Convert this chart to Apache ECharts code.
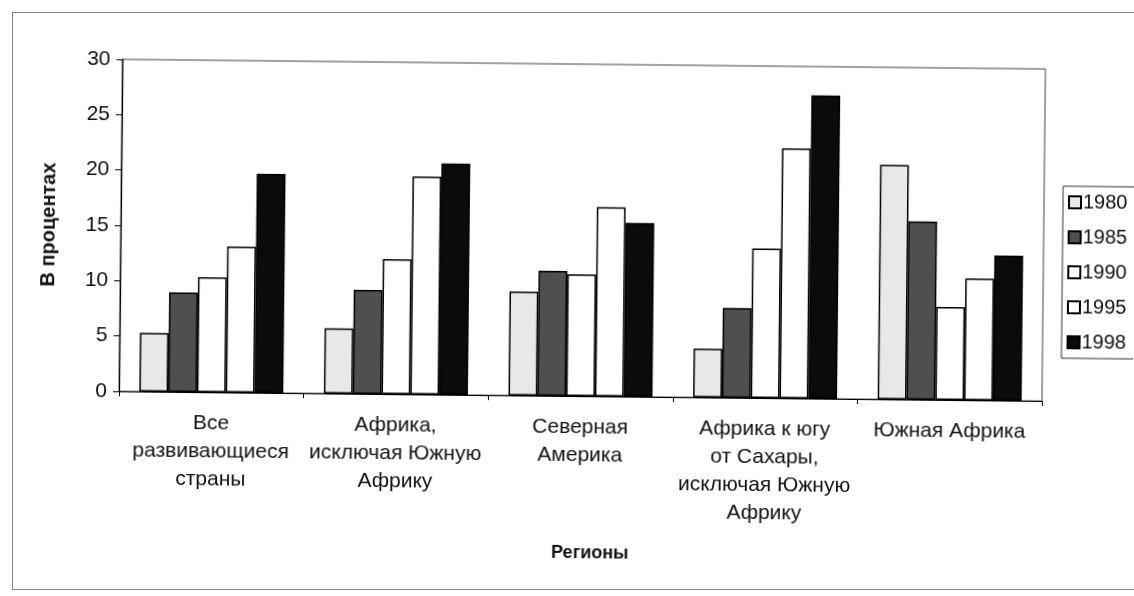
<!DOCTYPE html>
<html>
<head>
<meta charset="utf-8">
<script src="https://cdn.jsdelivr.net/npm/echarts@6/dist/echarts.min.js"></script>
<style>
    html, body { margin: 0; padding: 0; background: #fff; }
    #frame {
        position: absolute; left: 12px; top: 12px; width: 1130px; height: 576px;
        border: 1px solid #888; border-right: none;
    }
    #bars {
        position: absolute; left: 0; top: 0; width: 1134px; height: 596px;
        transform: rotate(0.6deg);
    }
</style>
</head>
<body>
<div id="frame"></div>
<div id="bars"></div>
<script>
// регионы и значения (в процентах)
const regions = [
    'Все\nразвивающиеся\nстраны',
    'Африка,\nисключая Южную\nАфрику',
    'Северная\nАмерика',
    'Африка к югу\nот Сахары,\nисключая Южную\nАфрику',
    'Южная Африка'
];
const years = ['1980', '1985', '1990', '1995', '1998'];
const v1980 = [5.3, 5.9, 9.4, 4.4, 21.2];
const v1985 = [9.0, 9.4, 11.3, 8.1, 16.1];
const v1990 = [10.4, 12.2, 11.0, 13.5, 8.4];
const v1995 = [13.2, 19.7, 17.1, 22.6, 11.0];
const v1998 = [19.8, 20.9, 15.7, 27.4, 13.1];
const yTicks = [0, 5, 10, 15, 20, 25, 30];

const font = 'Liberation Sans';
const fills = ['#e8e8e8', '#4f4f4f', '#ffffff', '#ffffff', '#0b0b0b'];
const values = [v1980, v1985, v1990, v1995, v1998];

const chart = echarts.init(document.getElementById('bars'));

const series = years.map((y, i) => ({
    name: y,
    type: 'bar',
    data: values[i],
    barGap: '0%',
    barCategoryGap: '22%',
    itemStyle: {
        color: fills[i],
        borderColor: '#000',
        borderWidth: 1.5
    }
}));

const option = {
    animation: false,
    backgroundColor: 'transparent',
    textStyle: { fontFamily: font },
    grid: {
        left: 120, right: 91, top: 64, bottom: 200,
        show: true,
        borderColor: '#444',
        borderWidth: 1
    },
    legend: {
        orient: 'vertical',
        left: 1062,
        top: 181,
        data: years,
        icon: 'rect',
        itemWidth: 12,
        itemHeight: 12,
        itemGap: 15,
        padding: [6, 10, 6, 5],
        borderColor: '#333',
        borderWidth: 1,
        textStyle: { fontFamily: font, fontSize: 20, color: '#111', padding: [0, 0, 0, -3] }
    },
    xAxis: {
        type: 'category',
        data: regions,
        name: 'Регионы',
        nameLocation: 'middle',
        nameGap: 148,
        nameTextStyle: { fontFamily: font, fontSize: 18, fontWeight: 'bold', color: '#111', padding: [0, 0, 0, 22] },
        axisLine: { lineStyle: { color: '#000', width: 1.2 } },
        axisTick: { show: true, length: 5, lineStyle: { color: '#000' } },
        axisLabel: {
            interval: 0,
            margin: 17,
            fontFamily: font,
            fontSize: 21,
            lineHeight: 28,
            color: '#111',
            align: 'center'
        }
    },
    yAxis: {
        type: 'value',
        min: yTicks[0],
        max: yTicks[yTicks.length - 1],
        interval: 5,
        name: 'В процентах',
        nameLocation: 'middle',
        nameGap: 62,
        nameTextStyle: { fontFamily: font, fontSize: 20, fontWeight: 'bold', color: '#111' },
        axisLine: { show: true, lineStyle: { color: '#000', width: 1.2 } },
        axisTick: { show: true, length: 6, lineStyle: { color: '#000' } },
        splitLine: { show: false },
        axisLabel: { fontFamily: font, fontSize: 21, color: '#111', margin: 12 }
    },
    series: series
};

chart.setOption(option);
</script>
</body>
</html>
